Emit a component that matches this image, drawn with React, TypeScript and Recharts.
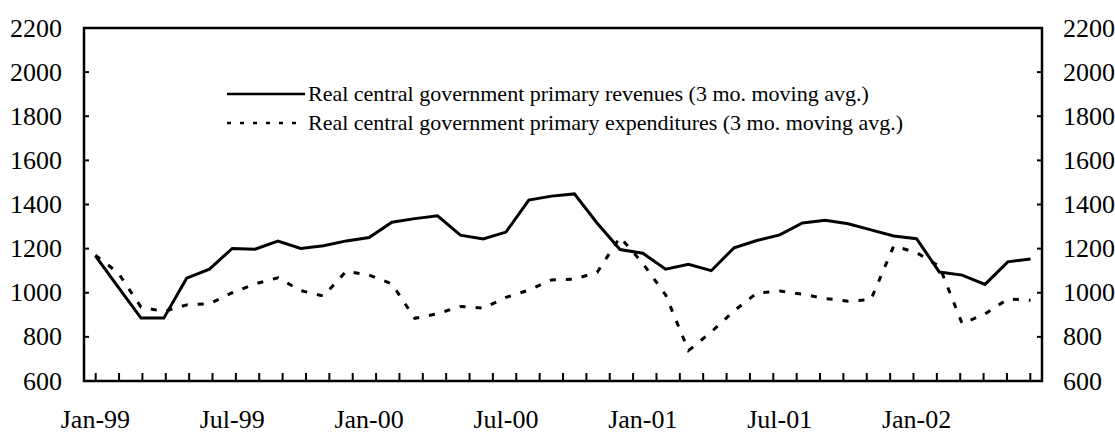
import React from 'react';
import { LineChart, Line, XAxis, YAxis, Legend, ReferenceArea } from 'recharts';

const months = [
  'Jan-99', 'Feb-99', 'Mar-99', 'Apr-99', 'May-99', 'Jun-99', 'Jul-99', 'Aug-99', 'Sep-99', 'Oct-99', 'Nov-99', 'Dec-99',
  'Jan-00', 'Feb-00', 'Mar-00', 'Apr-00', 'May-00', 'Jun-00', 'Jul-00', 'Aug-00', 'Sep-00', 'Oct-00', 'Nov-00', 'Dec-00',
  'Jan-01', 'Feb-01', 'Mar-01', 'Apr-01', 'May-01', 'Jun-01', 'Jul-01', 'Aug-01', 'Sep-01', 'Oct-01', 'Nov-01', 'Dec-01',
  'Jan-02', 'Feb-02', 'Mar-02', 'Apr-02', 'May-02', 'Jun-02',
];

const revenues = [
  1167, 1025, 885, 885, 1066, 1107, 1201, 1197, 1234, 1201, 1213, 1235,
  1250, 1320, 1336, 1349, 1261, 1244, 1275, 1420, 1438, 1448, 1315, 1196,
  1179, 1107, 1129, 1100, 1204, 1237, 1262, 1316, 1328, 1313, 1285, 1257,
  1245, 1094, 1080, 1038, 1140, 1153,
];

const expenditures = [
  1170, 1090, 935, 915, 945, 950, 1000, 1040, 1068, 1010, 985, 1098,
  1080, 1040, 884, 905, 938, 930, 979, 1012, 1058, 1062, 1093, 1252,
  1133, 990, 738, 822, 918, 999, 1008, 993, 974, 962, 969, 1212,
  1182, 1120, 860, 904, 972, 966,
];

const labelMonths = ['Jan-99', 'Jul-99', 'Jan-00', 'Jul-00', 'Jan-01', 'Jul-01', 'Jan-02'];
const yTicks = [600, 800, 1000, 1200, 1400, 1600, 1800, 2000, 2200];

const series = [
  { key: 'revenue', name: 'Real central government primary revenues (3 mo. moving avg.)', dash: undefined, legendDash: undefined },
  { key: 'expenditure', name: 'Real central government primary expenditures (3 mo. moving avg.)', dash: '6 10', legendDash: '4 9' },
];

const data = months.map((m, i) => ({ idx: i, month: m, revenue: revenues[i], expenditure: expenditures[i] }));
const labelTicks = labelMonths.map((m) => months.indexOf(m));
const markTicks = months.slice(1).map((_, i) => i + 0.5);

const W = 1115;
const H = 438;
const PLOT_LEFT = 84;
const PLOT_RIGHT = 1042;
const PLOT_TOP = 28;
const PLOT_BOTTOM = 381;
const FONT = "'Liberation Serif', 'Times New Roman', serif";

const MonthLabel = (props: any) => (
  <text x={props.x} y={PLOT_BOTTOM + 38} textAnchor="middle" dominantBaseline="central" fontSize={26} fontFamily={FONT} fill="#000">
    {months[props.payload.value]}
  </text>
);

const MonthMark = (props: any) => (
  <line x1={props.x} x2={props.x} y1={PLOT_BOTTOM} y2={PLOT_BOTTOM - 8} stroke="#000" strokeWidth={2} />
);

const LeftTick = (props: any) => (
  <g>
    <line x1={PLOT_LEFT} x2={PLOT_LEFT + 5} y1={props.y} y2={props.y} stroke="#000" strokeWidth={2} />
    <text x={PLOT_LEFT - 22} y={props.y} textAnchor="end" dominantBaseline="central" fontSize={26} fontFamily={FONT} fill="#000">
      {props.payload.value}
    </text>
  </g>
);

const RightTick = (props: any) => (
  <g>
    <line x1={PLOT_RIGHT - 5} x2={PLOT_RIGHT} y1={props.y} y2={props.y} stroke="#000" strokeWidth={2} />
    <text x={PLOT_RIGHT + 21} y={props.y} textAnchor="start" dominantBaseline="central" fontSize={26} fontFamily={FONT} fill="#000">
      {props.payload.value}
    </text>
  </g>
);

const LegendBox = () => (
  <div style={{ fontFamily: FONT, fontSize: 22, color: '#000', lineHeight: '29px' }}>
    {series.map((s) => (
      <div key={s.key} style={{ display: 'flex', alignItems: 'center', whiteSpace: 'nowrap' }}>
        <svg width={78} height={8} style={{ display: 'block' }}>
          <line x1={0} x2={78} y1={4} y2={4} stroke="#000" strokeWidth={2.5} strokeDasharray={s.legendDash} />
        </svg>
        <span style={{ marginLeft: 3 }}>{s.name}</span>
      </div>
    ))}
  </div>
);

export default function App() {
  return (
    <div style={{ position: 'absolute', left: 0, top: 0, width: W, height: H, background: '#fff' }}>
      <LineChart
        width={W}
        height={H}
        data={data}
        margin={{ top: PLOT_TOP, right: W - PLOT_RIGHT - 1, bottom: H - PLOT_BOTTOM - 2, left: PLOT_LEFT - 1 }}
      >
        <XAxis
          xAxisId="m"
          dataKey="idx"
          type="number"
          domain={[-0.5, 41.5]}
          allowDataOverflow
          ticks={labelTicks}
          tick={<MonthLabel />}
          tickLine={false}
          axisLine={false}
          interval={0}
          height={1}
        />
        <XAxis
          xAxisId="marks"
          type="number"
          domain={[-0.5, 41.5]}
          allowDataOverflow
          ticks={markTicks}
          tick={<MonthMark />}
          tickLine={false}
          axisLine={false}
          interval={0}
          height={1}
        />
        <YAxis
          yAxisId="l"
          domain={[600, 2200]}
          allowDataOverflow
          ticks={yTicks}
          tick={<LeftTick />}
          tickLine={false}
          axisLine={false}
          interval={0}
          width={1}
        />
        <YAxis
          yAxisId="r"
          orientation="right"
          domain={[600, 2200]}
          allowDataOverflow
          ticks={yTicks}
          tick={<RightTick />}
          tickLine={false}
          axisLine={false}
          interval={0}
          width={1}
        />
        <ReferenceArea
          xAxisId="m"
          yAxisId="l"
          x1={-0.5}
          x2={41.5}
          y1={600}
          y2={2200}
          fill="none"
          stroke="#000"
          strokeWidth={2.5}
          ifOverflow="visible"
        />
        {series.map((s) => (
          <Line
            key={s.key}
            xAxisId="m"
            yAxisId="l"
            type="linear"
            dataKey={s.key}
            name={s.name}
            stroke="#000"
            strokeWidth={3}
            strokeDasharray={s.dash}
            dot={false}
            activeDot={false}
            isAnimationActive={false}
          />
        ))}
        <Legend
          layout="horizontal"
          verticalAlign="middle"
          align="center"
          content={<LegendBox />}
          wrapperStyle={{ left: 227, top: 79, width: 720 }}
        />
      </LineChart>
    </div>
  );
}
